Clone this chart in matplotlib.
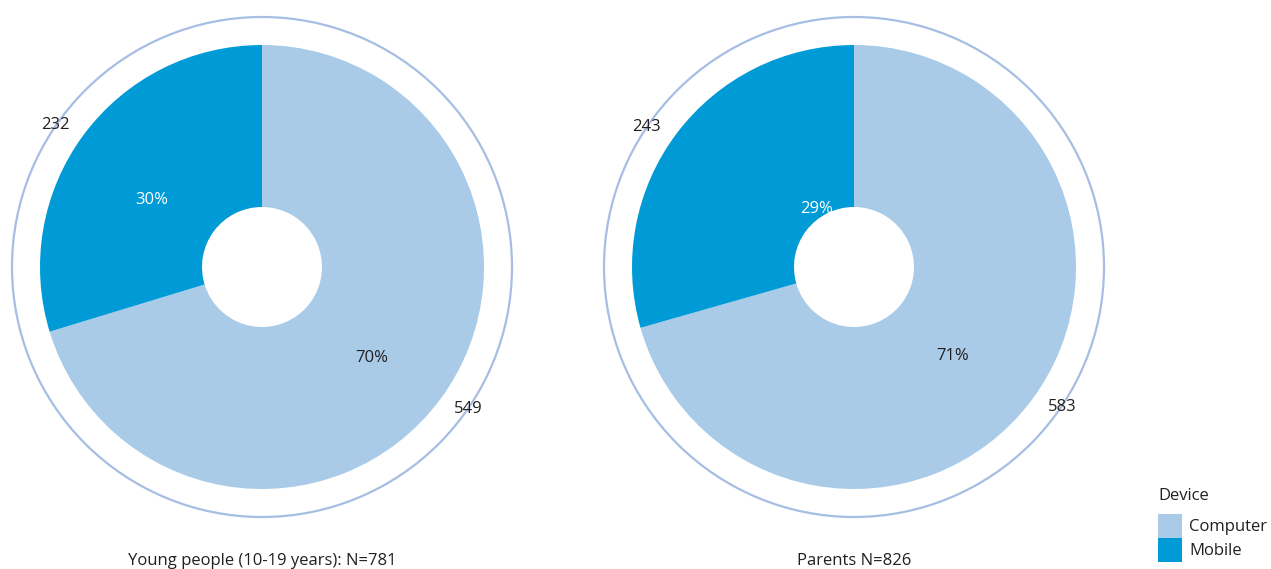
import numpy as np
import matplotlib
matplotlib.use("Agg")
import matplotlib.pyplot as plt
from matplotlib.patches import Circle, Rectangle

plt.rcParams['font.family'] = ['Open Sans', 'DejaVu Sans']

# data
devices = ["Computer", "Mobile"]
colors = ["#a9cbe8", "#009bd6"]
young_counts = [549, 232]
young_pct = ["70%", "30%"]
parent_counts = [583, 243]
parent_pct = ["71%", "29%"]
titles = ["Young people (10-19 years): N=781", "Parents N=826"]

W, H = 1271, 569
fig = plt.figure(figsize=(W / 100, H / 100), dpi=100)
fig.patch.set_facecolor("white")

R_PX = 222.0        # pie radius in pixels
HALF = 260.0        # half width of the axes box in pixels
RING = 250.0 / R_PX
HOLE = 60.0 / R_PX
TXT = "#231f20"


def draw_donut(cx, cy, counts, pcts, title, pct_pos, cnt_shift):
    ax = fig.add_axes([(cx - HALF) / W, (H - cy - HALF) / H, 2 * HALF / W, 2 * HALF / H])

    wedges, _ = ax.pie(counts, colors=colors, startangle=90, counterclock=False,
                       radius=1.0, wedgeprops=dict(width=1.0 - HOLE, linewidth=0))
    ax.add_patch(Circle((0, 0), RING, fill=False, edgecolor="#a6bee3", lw=1.6))

    # pie() resets the limits, so set them afterwards
    lim = HALF / R_PX
    ax.set_xlim(-lim, lim)
    ax.set_ylim(-lim, lim)
    ax.set_aspect("equal")
    ax.axis("off")

    for i, (w, c, p) in enumerate(zip(wedges, counts, pcts)):
        mid = np.deg2rad((w.theta1 + w.theta2) / 2)
        pr, shift = pct_pos[i]
        a = mid + np.deg2rad(shift)
        ax.text(pr * np.cos(a), pr * np.sin(a), p, ha="center", va="center",
                fontsize=12, color="white" if i == 1 else TXT)
        b = mid + np.deg2rad(cnt_shift)
        ax.text(1.13 * np.cos(b), 1.13 * np.sin(b), str(c), ha="center", va="center",
                fontsize=12, color=TXT, clip_on=False)

    fig.text(cx / W, (H - 561) / H, title, ha="center", va="center", fontsize=12, color=TXT)


draw_donut(262, 267, young_counts, young_pct, titles[0], [(0.643, -3), (0.58, 5)], 2.0)
draw_donut(854, 267, parent_counts, parent_pct, titles[1], [(0.597, -5), (0.31, -20)], 3.0)

# legend
fig.text(1158 / W, (H - 496) / H, "Device", ha="left", va="center", fontsize=12, color=TXT)
for i, (lab, col) in enumerate(zip(devices, colors)):
    top = 514 + 24 * i
    fig.add_artist(Rectangle((1158 / W, (H - top - 24) / H), 24 / W, 24 / H,
                             transform=fig.transFigure, facecolor=col, edgecolor="none"))
    fig.text(1189 / W, (H - top - 13) / H, lab, ha="left", va="center", fontsize=12, color=TXT)

fig.savefig("out.png", dpi=100, facecolor="white")
